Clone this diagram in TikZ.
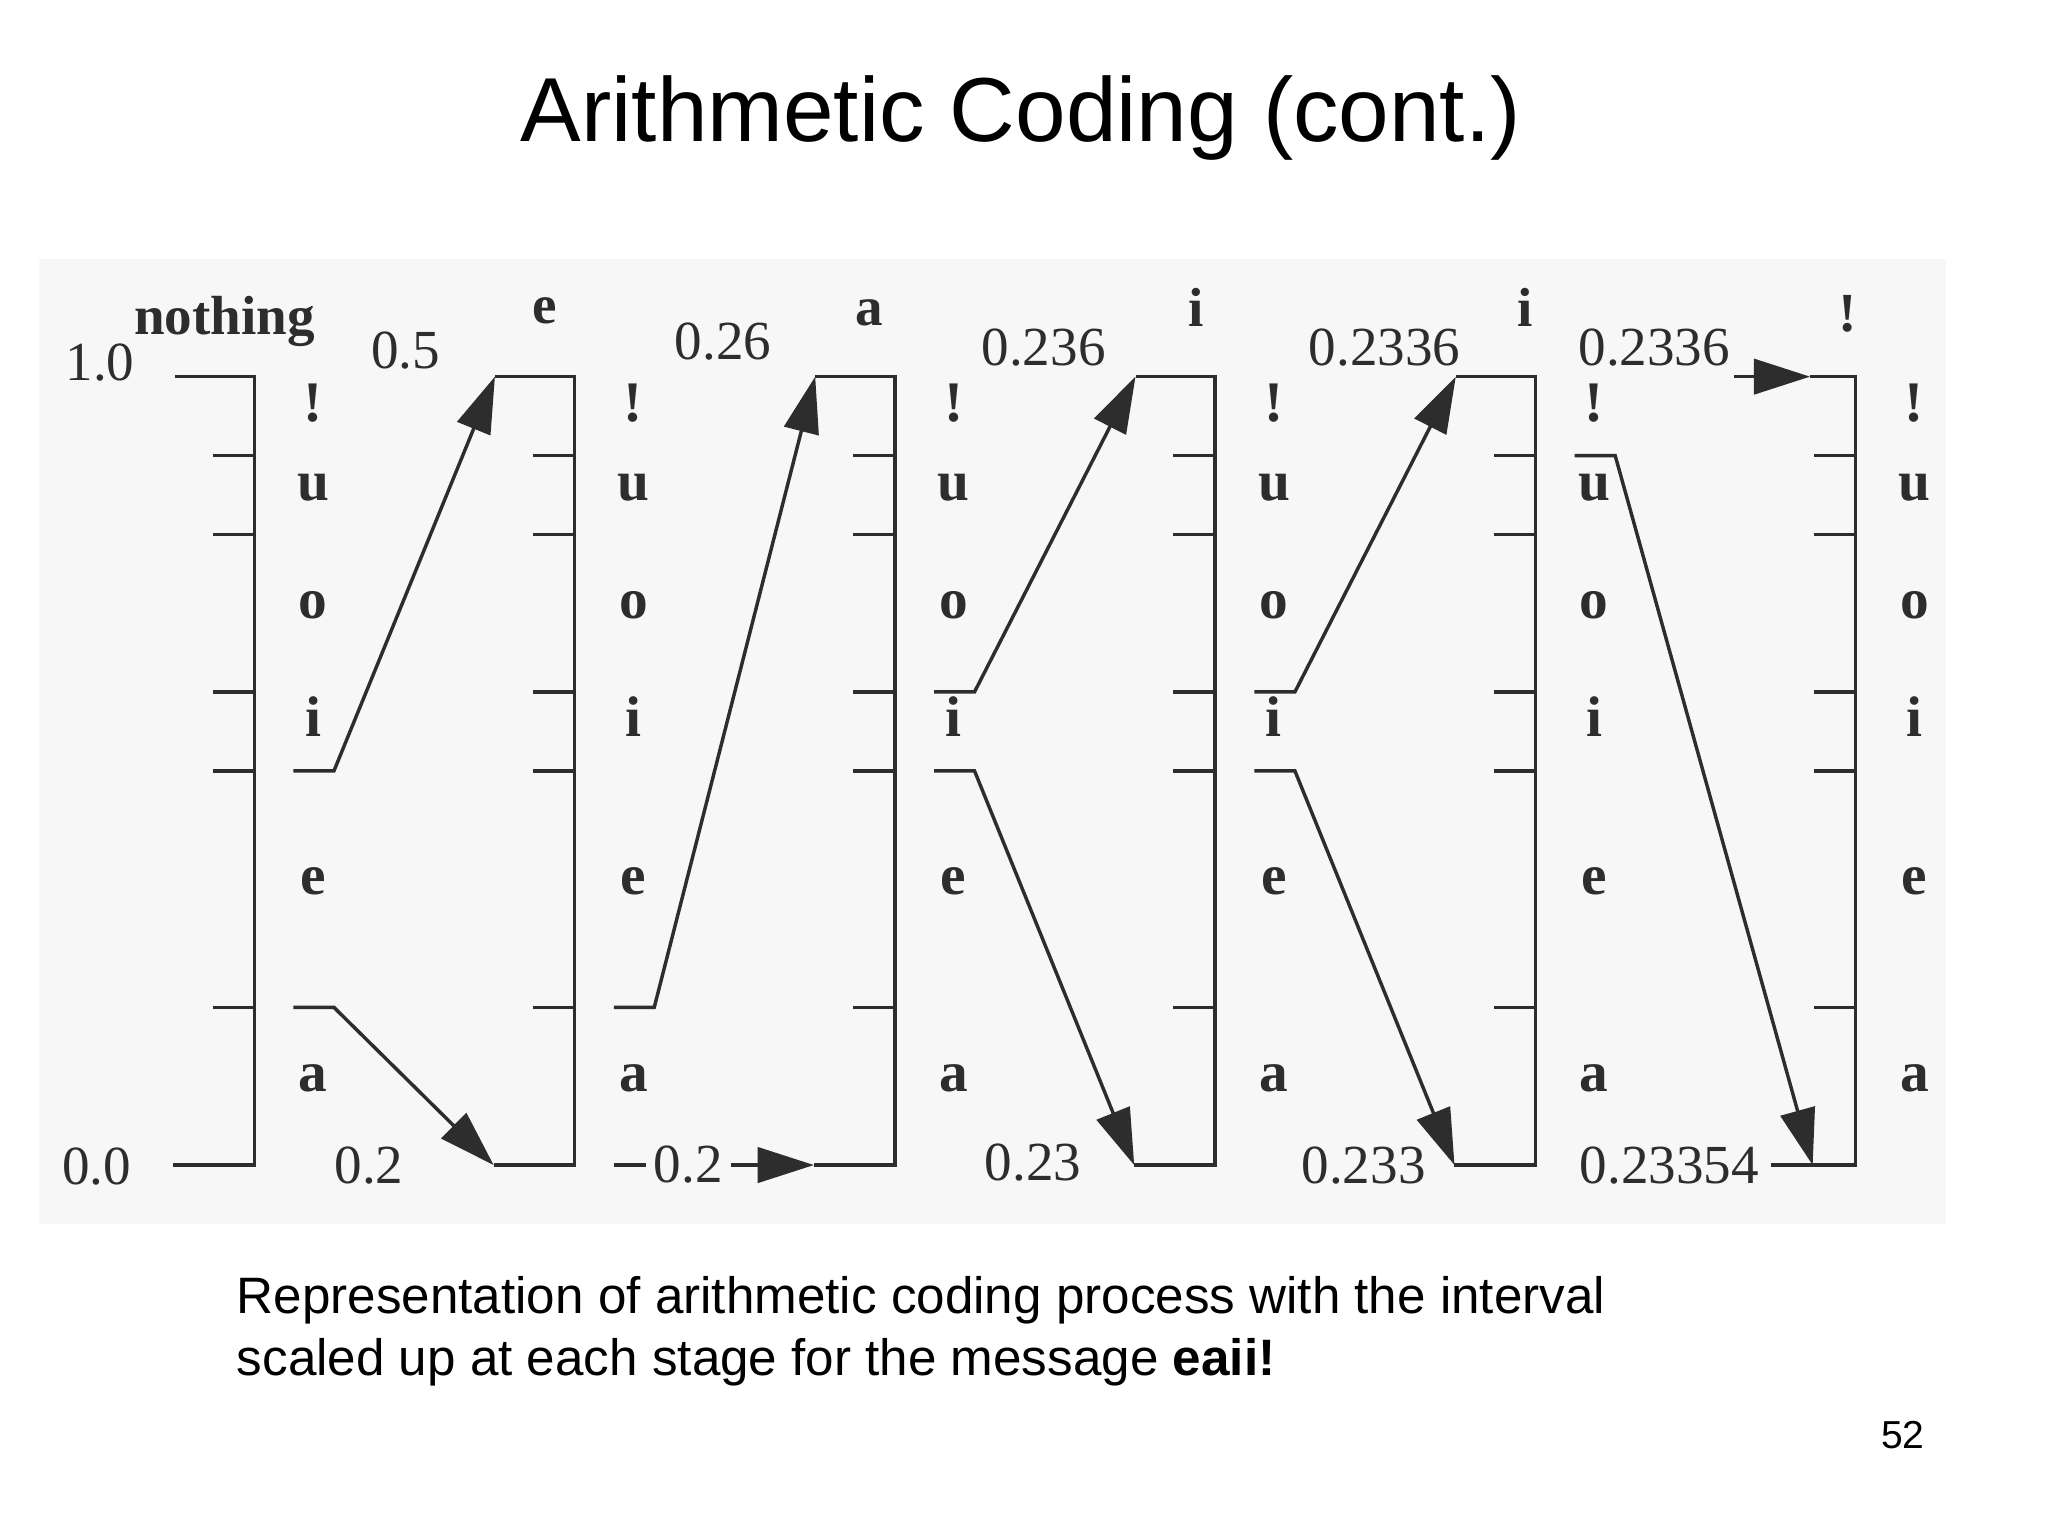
\documentclass[tikz,border=0pt]{standalone}
\usepackage{fontspec}
\setmainfont{Liberation Serif}
\setsansfont{Liberation Sans}
\usepackage{xcolor}
\usepackage{tikz}
\usetikzlibrary{positioning}
\usetikzlibrary{calc}
\usetikzlibrary{arrows.meta}

\definecolor{scan}{RGB}{247,247,248}
\definecolor{ink}{RGB}{45,45,45}

\begin{document}
\begin{tikzpicture}[
    line width=0.75pt,
    rail/.style={draw=ink},
    arr/.style={draw=ink,-{Triangle[length=4.3mm,width=2.7mm]}},
    num/.style={font=\fontsize{12}{14}\selectfont,text=ink,inner sep=0pt,anchor=base},
    sym/.style={font=\fontsize{12.5}{14}\selectfont\bfseries,text=ink,inner sep=0pt,anchor=base},
    stage/.style={font=\fontsize{12}{14}\selectfont\bfseries,text=ink,inner sep=0pt,anchor=base},
]
\useasboundingbox (0,0) rectangle (15.68,11.76);
\fill[scan] (0.30,2.39) rectangle (14.90,9.78);

\node[font=\sffamily\fontsize{19.8}{22}\selectfont,anchor=base] (title) at (7.816,10.675) {Arithmetic Coding (cont.)};

% the six intervals, each scaled to full height
\foreach \k in {1,...,6}{
    \pgfmathsetmacro\vx{1.947+2.4522*(\k-1)}
    \pgfmathsetmacro\tl{ifthenelse(\k==6,0.35,0.61)}
    \pgfmathsetmacro\bl{ifthenelse(\k==6,0.65,0.62)}
    \coordinate (top\k) at (\vx,8.876);
    \coordinate (bot\k) at (\vx,2.84);
    \coordinate (topl\k) at (\vx-\tl,8.876);
    \coordinate (botl\k) at (\vx-\bl,2.84);
    \draw[rail] (topl\k) -- (top\k) -- (bot\k) -- (botl\k);
    \foreach \v in {0.2,0.5,0.6,0.8,0.9}
        \draw[rail] (\vx-0.32,2.84+6.036*\v) -- (\vx,2.84+6.036*\v);
    \foreach \s/\m/\n in {a/0.1/1,e/0.35/2,i/0.55/3,o/0.7/4,u/0.85/5,!/0.95/6}
        \node[sym] (sym\k\n) at (\vx+0.45,2.80+6.036*\m) {\s};
}

% symbol read at each stage
\node[stage] (st0) at (1.72,9.195) {nothing};
\node[stage] (st1) at (4.17,9.284) {e};
\node[stage] (st2) at (6.655,9.271) {a};
\node[stage] (st3) at (9.155,9.26) {i};
\node[stage] (st4) at (11.68,9.26) {i};
\node[stage] (st5) at (14.145,9.22) {!};

% interval ends
\node[num] (hi0) at (0.765,8.85) {1.0};
\node[num] (lo0) at (0.74,2.69) {0.0};
\node[num] (hi1) at (3.105,8.942) {0.5};
\node[num] (lo1) at (2.825,2.70) {0.2};
\node[num] (hi2) at (5.536,9.004) {0.26};
\node[num] (hi3) at (7.99,8.965) {0.236};
\node[num] (lo3) at (7.91,2.725) {0.23};
\node[num] (hi4) at (10.60,8.965) {0.2336};
\node[num] (lo4) at (10.44,2.70) {0.233};
\node[num] (hi5) at (12.665,8.965) {0.2336};
\node[num] (lo5) at (12.78,2.70) {0.23354};

% sub-interval boundaries that get scaled up
\coordinate (up1) at (2.247,5.858);   \coordinate (up1b) at (2.557,5.858);
\coordinate (dn1) at (2.247,4.047);   \coordinate (dn1b) at (2.557,4.047);
\coordinate (up2) at (4.699,4.047);   \coordinate (up2b) at (5.009,4.047);
\coordinate (dn2) at (4.699,2.84);
\coordinate (up3) at (7.151,6.462);   \coordinate (up3b) at (7.461,6.462);
\coordinate (dn3) at (7.151,5.858);   \coordinate (dn3b) at (7.461,5.858);
\coordinate (up4) at (9.604,6.462);   \coordinate (up4b) at (9.914,6.462);
\coordinate (dn4) at (9.604,5.858);   \coordinate (dn4b) at (9.914,5.858);
\coordinate (up5) at (12.056,8.272);  \coordinate (up5b) at (12.366,8.272);
\coordinate (in6) at (13.278,8.876);
\coordinate (hit6) at (13.878,2.84);

\draw[arr] (up1) -- (up1b) -- (topl2);
\draw[arr] (dn1) -- (dn1b) -- (botl2);
\draw[arr] (up2) -- (up2b) -- (topl3);
\draw[arr] (dn2) -- node[num,anchor=center,pos=0.373,fill=scan,inner xsep=0.6mm] (mid2) {0.2} (botl3);
\draw[arr] (up3) -- (up3b) -- (topl4);
\draw[arr] (dn3) -- (dn3b) -- (botl4);
\draw[arr] (up4) -- (up4b) -- (topl5);
\draw[arr] (dn4) -- (dn4b) -- (botl5);
\draw[arr] (up5) -- (up5b) -- (hit6);
\draw[arr] (in6) -- (topl6);

\node[font=\sffamily\fontsize{11.15}{13.4}\selectfont,anchor=base west,inner sep=0pt] (cap1) at (1.80,1.704) {Representation of arithmetic coding process with the interval};
\node[font=\sffamily\fontsize{11.15}{13.4}\selectfont,anchor=base west,inner sep=0pt] (cap2) at (1.80,1.232) {scaled up at each stage for the message \textbf{eaii!}};
\node[font=\sffamily\fontsize{8.5}{10}\selectfont,anchor=base] (page) at (14.568,0.67) {52};
\end{tikzpicture}
\end{document}
